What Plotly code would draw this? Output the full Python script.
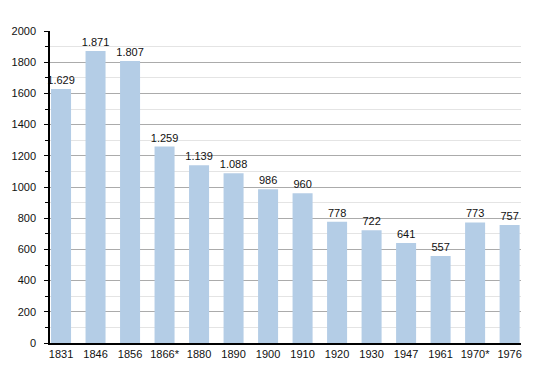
import plotly.graph_objects as go

years = ["1831", "1846", "1856", "1866*", "1880", "1890", "1900", "1910", "1920", "1930", "1947", "1961", "1970*", "1976"]
population = [1629, 1871, 1807, 1259, 1139, 1088, 986, 960, 778, 722, 641, 557, 773, 757]
labels = ["1.629", "1.871", "1.807", "1.259", "1.139", "1.088", "986", "960", "778", "722", "641", "557", "773", "757"]

fig = go.Figure(go.Bar(
    x=list(range(len(years))), y=population, text=labels,
    textposition="outside", cliponaxis=False, constraintext="none",
    textfont=dict(size=11, color="#111", family="Liberation Sans, Arial, sans-serif"),
    marker=dict(color="#b4cde6", line=dict(width=0)),
))
fig.update_layout(
    width=550, height=373,
    margin=dict(l=42, r=37, t=23, b=38),
    paper_bgcolor="white", plot_bgcolor="white",
    bargap=0.42, showlegend=False,
    font=dict(family="Liberation Sans, Arial, sans-serif", size=11, color="#111"),
)
fig.update_xaxes(
    tickmode="array", tickvals=list(range(len(years))), ticktext=years,
    range=[-0.32, 13.33], showline=True, linecolor="black", linewidth=1.5,
    showgrid=False, ticks="", tickfont=dict(size=11), automargin=False,
)
fig.update_yaxes(
    range=[0, 2000], dtick=200, showline=True, linecolor="black", linewidth=1.5,
    showgrid=True, gridcolor="#ababab", gridwidth=1,
    ticks="outside", ticklen=4, tickcolor="black", ticklabelstandoff=6,
    minor=dict(dtick=100, showgrid=True, gridcolor="#e4e4e4", ticks="outside", ticklen=3, tickcolor="black"),
    zeroline=False, tickfont=dict(size=11), automargin=False,
)
fig.write_html("out.html")
